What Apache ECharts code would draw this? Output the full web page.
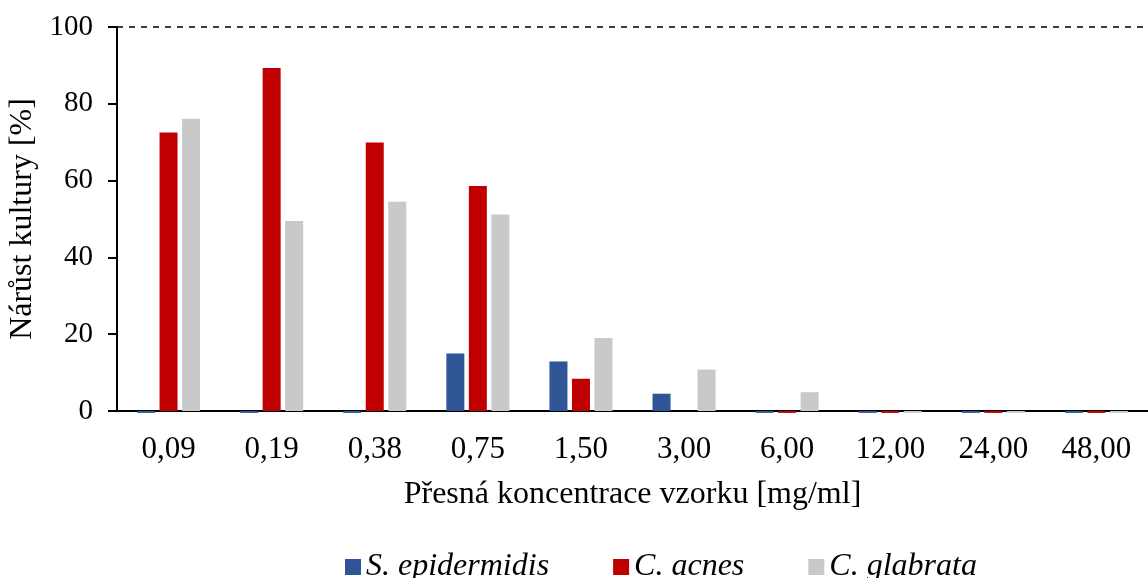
<!DOCTYPE html>
<html>
<head>
<meta charset="utf-8">
<script src="https://cdn.jsdelivr.net/npm/echarts@6/dist/echarts.min.js"></script>
<style>
  html, body { margin: 0; padding: 0; background: #fff; }
  #chart { width: 1148px; height: 578px; }
</style>
</head>
<body>
<div id="chart"></div>
<script>
// Concentrations of the sample [mg/ml]
const categories = ['0,09', '0,19', '0,38', '0,75', '1,50', '3,00', '6,00', '12,00', '24,00', '48,00'];
// Culture growth [%] per organism
const sEpidermidis = [-0.5, -0.5, -0.5, 15.0, 12.9, 4.5, -0.5, -0.5, -0.5, -0.5];
const cAcnes       = [72.5, 89.3, 69.9, 58.6, 8.4, 0, -0.5, -0.5, -0.5, -0.5];
const cGlabrata    = [76.1, 49.5, 54.5, 51.2, 19.0, 10.8, 4.9, -0.5, -0.5, -0.5];
const yTicks = [0, 20, 40, 60, 80, 100];

const FONT = '"Liberation Serif", "Times New Roman", serif';

const chart = echarts.init(document.getElementById('chart'), null, { renderer: 'canvas' });

function barSeries(name, data, color, extra) {
  return Object.assign({
    name: name,
    type: 'bar',
    data: data,
    barWidth: 18,
    barGap: '25%',
    clip: false,
    itemStyle: { color: color },
    emphasis: { disabled: true }
  }, extra || {});
}

chart.setOption({
  animation: false,
  textStyle: { fontFamily: FONT, color: '#000' },
  grid: { left: 117, right: 0, top: 27, bottom: 167, containLabel: false, outerBoundsMode: 'none' },
  legend: {
    top: 546,
    left: 340,
    itemWidth: 16,
    itemHeight: 16,
    itemGap: 64,
    icon: 'rect',
    textStyle: { fontFamily: FONT, fontStyle: 'italic', fontSize: 32, color: '#000' },
    data: ['S. epidermidis', 'C. acnes', 'C. glabrata']
  },
  xAxis: {
    type: 'category',
    data: categories,
    axisLine: { show: true, lineStyle: { color: '#000', width: 2 } },
    axisTick: { show: false },
    axisLabel: { fontFamily: FONT, fontSize: 31, color: '#000', margin: 23 },
    name: 'Přesná koncentrace vzorku [mg/ml]',
    nameLocation: 'middle',
    nameGap: 68,
    nameTextStyle: { fontFamily: FONT, fontSize: 32, color: '#000' }
  },
  yAxis: {
    type: 'value',
    min: 0,
    max: 100,
    interval: 20,
    axisLine: { show: true, lineStyle: { color: '#000', width: 2 } },
    axisTick: { show: true, inside: false, length: 9, lineStyle: { color: '#000', width: 2 } },
    axisLabel: {
      fontFamily: FONT, fontSize: 29, color: '#000', margin: 24,
      formatter: function (v) { return yTicks.indexOf(v) >= 0 ? String(v) : ''; }
    },
    splitLine: { show: false },
    name: 'Nárůst kultury [%]',
    nameLocation: 'middle',
    nameGap: 76,
    nameTextStyle: { fontFamily: FONT, fontSize: 32, color: '#000' }
  },
  series: [
    barSeries('S. epidermidis', sEpidermidis, '#2F5597', {
      markLine: {
        silent: true,
        symbol: 'none',
        label: { show: false },
        lineStyle: { color: '#000', type: [6, 6], width: 1.5 },
        data: [{ yAxis: 100 }]
      }
    }),
    barSeries('C. acnes', cAcnes, '#C00000'),
    barSeries('C. glabrata', cGlabrata, '#C9C9C9')
  ]
});
</script>
</body>
</html>
